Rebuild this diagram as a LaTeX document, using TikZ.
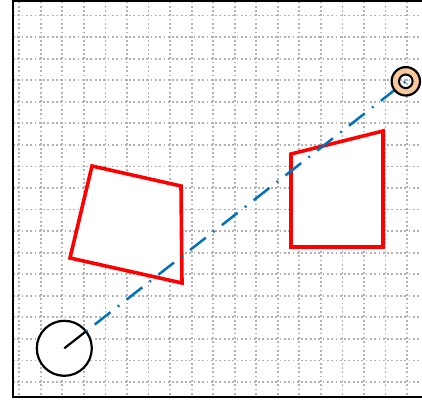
\documentclass[tikz,border=0pt]{standalone}
\definecolor{gridgray}{RGB}{178,178,178}
\definecolor{mblue}{RGB}{0,114,189}
\definecolor{peach}{RGB}{247,199,157}
\tikzset{
  gridline/.style={gridgray, line width=1.8pt, dash pattern=on 1.8pt off 2.5pt},
  obstacle/.style={draw=red, fill=white, line width=3.6pt, line join=miter},
  robotbody/.style={circle, draw=black, fill=white, line width=2.2pt, minimum size=55pt, inner sep=0pt, outer sep=0pt},
  pathline/.style={mblue, line width=2.5pt, dash pattern=on 1.8pt off 9.3pt on 20pt off 9.25pt},
  frameline/.style={black, line width=2pt}
}
\begin{document}
\begin{tikzpicture}[x=1pt,y=-1pt]
\useasboundingbox (0,0) rectangle (422,401);
\fill[white] (0,0) rectangle (422,401);
\begin{scope}
\clip (13,1.5) rectangle (422,396.5);
\foreach \k in {0,...,18} {
  \draw[gridline] ({19.2+21.55*\k},1.5) -- ({19.2+21.55*\k},396.5);
}
\foreach \k in {0,...,17} {
  \draw[gridline] (13,{15.6+21.55*\k}) -- (422,{15.6+21.55*\k});
}
\end{scope}
\draw[frameline] (430,1.5) -- (13,1.5) -- (13,396.5) -- (430,396.5);
% obstacles
\draw[obstacle] (92,166) -- (181,186) -- (182,283) -- (70,258) -- cycle;
\draw[obstacle] (291,154) -- (383,131) -- (383,247) -- (291,247) -- cycle;
% robot and goal
\node[robotbody] (robot) at (64.3,348.3) {};
\coordinate (goal) at (405.8,81.3);
\draw[pathline] (robot.38) -- (goal);
\draw[black, line width=2.2pt] (robot.center) -- (robot.38);
\fill[peach, even odd rule] (goal) circle (14.2) circle (6.8);
\draw[black, line width=2.2pt] (goal) circle (14.2);
\draw[black, line width=2pt] (goal) circle (6.8);
\end{tikzpicture}
\end{document}
